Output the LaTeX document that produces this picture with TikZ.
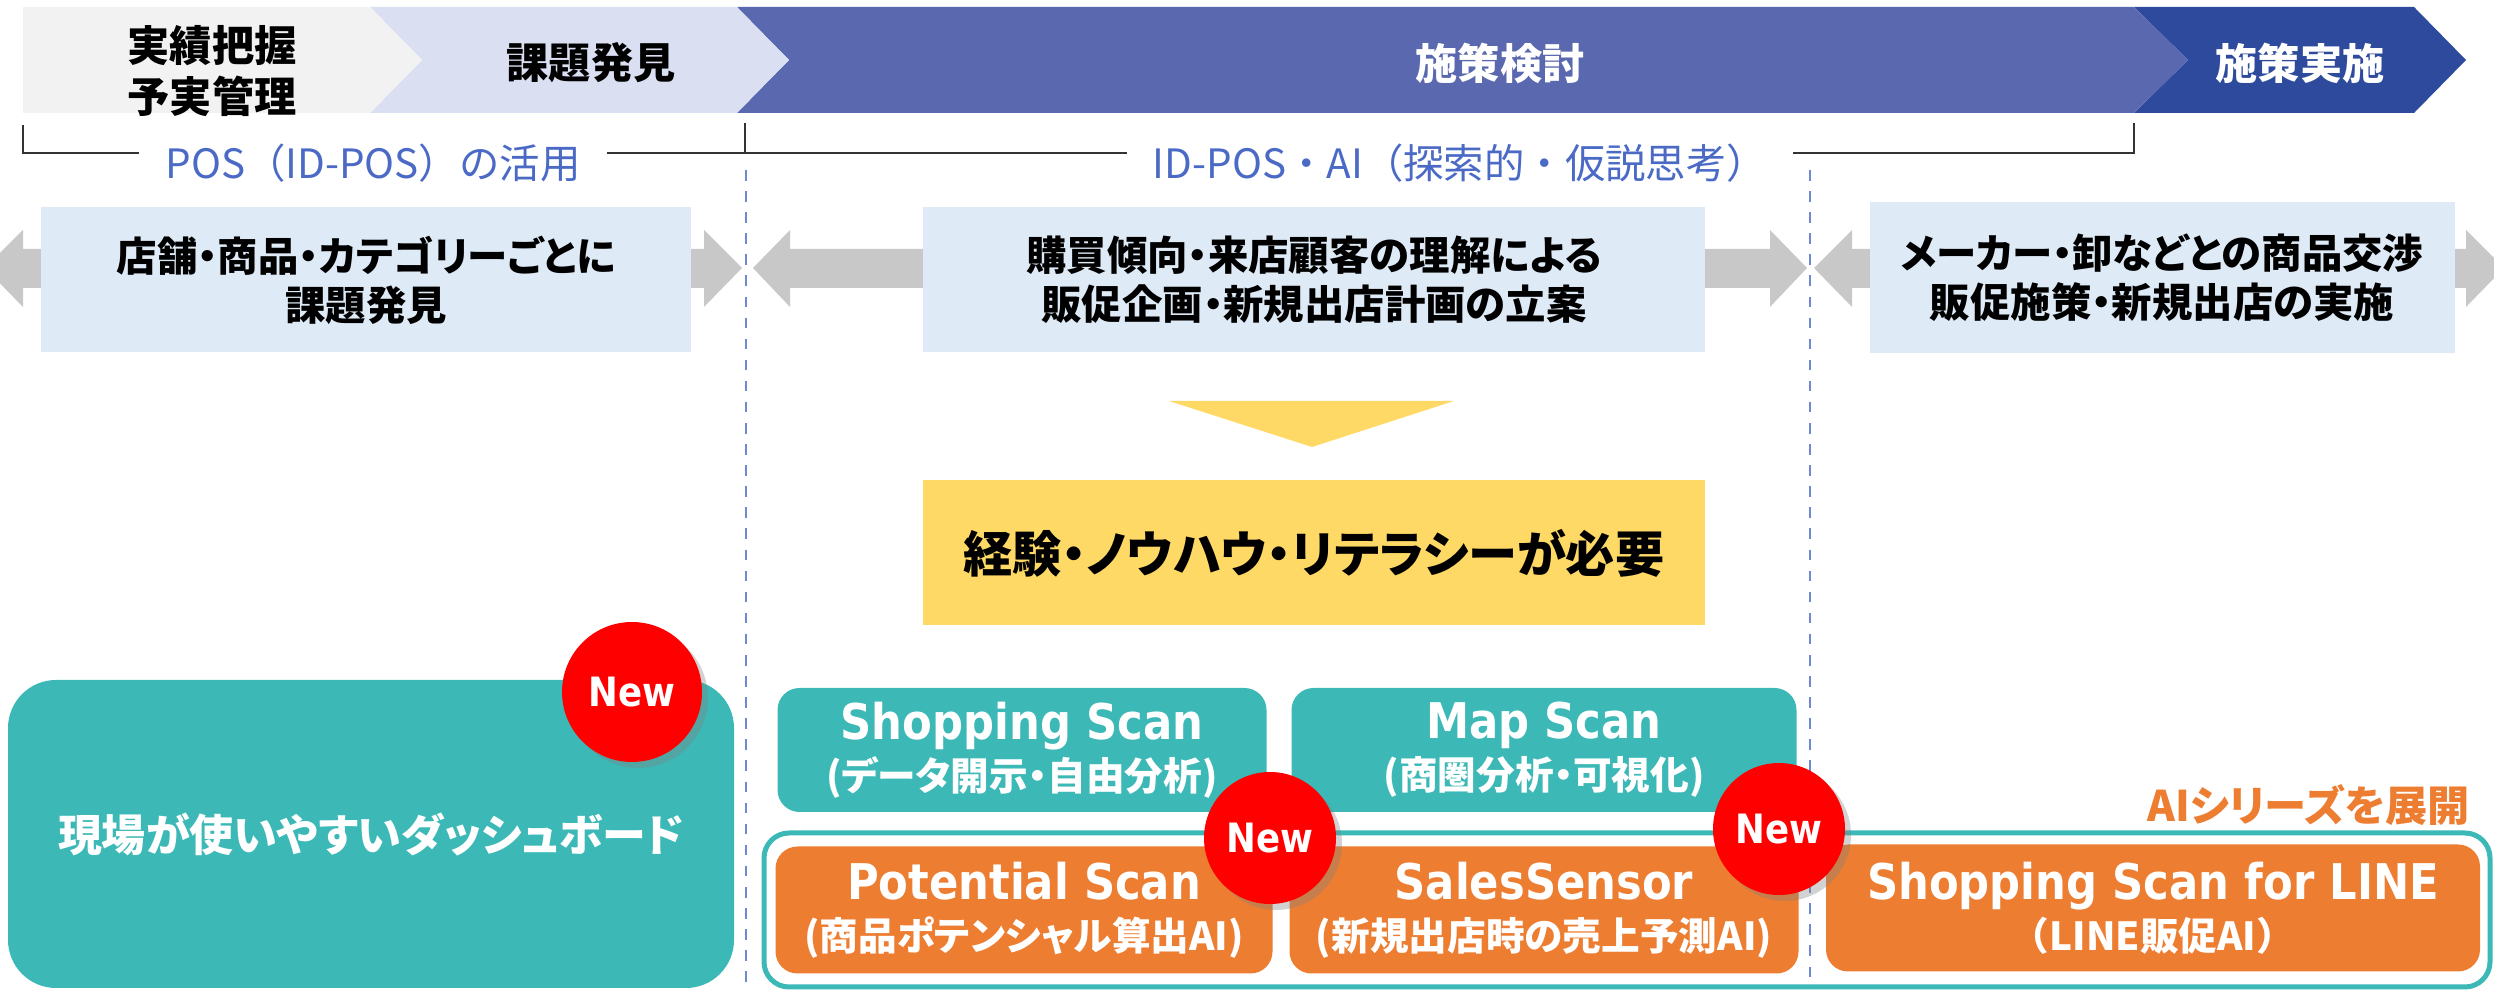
\documentclass[tikz,border=0pt]{standalone}
\usepackage{fontspec}
\setmainfont{Noto Sans CJK JP}[RawFeature=+palt]
\newfontfamily\jpwide{Noto Sans CJK JP}
\newfontfamily\latinface{DejaVu Sans}[FakeStretch=0.88]
\usetikzlibrary{shadows}

\definecolor{chevgray}{HTML}{F2F2F2}
\definecolor{chevlav}{HTML}{DAE0F2}
\definecolor{chevmid}{HTML}{5A69AF}
\definecolor{chevdark}{HTML}{2E4A9C}
\definecolor{taskblue}{HTML}{DEEAF6}
\definecolor{arrowgray}{HTML}{C8C8C8}
\definecolor{needyellow}{HTML}{FFD966}
\definecolor{scanteal}{HTML}{3CB9B7}
\definecolor{aiorange}{HTML}{ED7D31}
\definecolor{labelblue}{HTML}{4A6AC6}

\begin{document}
\begin{tikzpicture}[x=0.1mm, y=-0.1mm,
  hdtext/.style={font=\bfseries\fontsize{12}{14.5}\selectfont, align=center},
  task/.style={fill=taskblue, align=center, font=\bfseries\fontsize{11.5}{14}\selectfont},
  scan/.style={fill=scanteal, rounded corners=2.2mm, text=white, align=center,
    font=\bfseries\fontsize{11}{14.5}\selectfont, minimum height=12.4mm},
  aibox/.style={scan, fill=aiorange, minimum height=12.7mm},
  newbadge/.style={circle, fill=red, text=white, inner sep=0pt, minimum size=13.2mm,
    font=\latinface\bfseries\fontsize{11.5}{12}\selectfont,
    drop shadow={shadow xshift=0.6mm, shadow yshift=-0.6mm, opacity=0.35}},
  phase/.style={font=\jpwide\fontsize{11.5}{12}\selectfont, text=labelblue, fill=white, inner xsep=2.6mm},
  bracket/.style={draw=black!80, line width=0.15mm},
  divider/.style={draw=labelblue!80, dashed, line width=0.12mm}
]
\useasboundingbox (0,0) rectangle (2494,990);

% header chevrons
\fill[chevdark] (2134,7) -- (2414,7) -- (2466,60) -- (2414,113) -- (2134,113) -- (2188,60) -- cycle;
\fill[chevmid] (737,7) -- (2134,7) -- (2188,60) -- (2134,113) -- (737,113) -- (789,60) -- cycle;
\fill[chevlav] (370,7) -- (737,7) -- (789,60) -- (737,113) -- (370,113) -- (422,60) -- cycle;
\fill[chevgray] (23,7) -- (370,7) -- (422,60) -- (370,113) -- (23,113) -- cycle;
\node[hdtext] (hd1) at (212,71) {実績把握\\予実管理};
\node[hdtext] (hd2) at (591,63) {課題発見};
\node[hdtext, text=white] (hd3) at (1500,63) {施策検討};
\node[hdtext, text=white] (hd4) at (2300,63) {施策実施};

% brackets
\coordinate (lb0) at (23,125);
\coordinate (lb1) at (23,153);
\coordinate (mid) at (745,153);
\coordinate (midtop) at (745,123);
\coordinate (rb1) at (2134,153);
\coordinate (rb0) at (2134,123);
\draw[bracket] (lb0) -- (lb1) -- (mid) -- (midtop);
\draw[bracket] (mid) -- (rb1) -- (rb0);
\node[phase] (pos) at (373,163) {POS（ID-POS）の活用};
\node[phase] (idpos) at (1460,163) {ID-POS・AI（探索的・仮説思考）};

% dividers
\coordinate (d1t) at (746,170);
\coordinate (d1b) at (746,990);
\coordinate (d2t) at (1810,170);
\coordinate (d2b) at (1810,990);
\draw[divider] (d1t) -- (d1b);
\draw[divider] (d2t) -- (d2b);

% gray double arrows
\fill[arrowgray] (-15,268) -- (23,230) -- (23,249) -- (704,249) -- (704,230) -- (742,268)
  -- (704,307) -- (704,288) -- (23,288) -- (23,307) -- cycle;
\fill[arrowgray] (753,268) -- (790,230) -- (790,249) -- (1770,249) -- (1770,230) -- (1807,268)
  -- (1770,307) -- (1770,288) -- (790,288) -- (790,307) -- cycle;
\fill[arrowgray] (1814,268) -- (1852,230) -- (1852,249) -- (2466,249) -- (2466,230) -- (2504,268)
  -- (2466,307) -- (2466,288) -- (1852,288) -- (1852,307) -- cycle;

\node[task, minimum width=65mm, minimum height=14.5mm] (issue) at (366,280) {店舗・商品・カテゴリーごとに\\課題発見};
\node[task, minimum width=78.2mm, minimum height=14.5mm] (plan) at (1314,280) {購買傾向・来店顧客の理解による\\販促企画・新規出店計画の立案};
\node[task, minimum width=58.5mm, minimum height=15.1mm] (exec) at (2162,278) {メーカー・卸などとの商品交渉\\販促施策・新規出店の実施};

% down triangle and need box
\fill[needyellow] (1169,401) -- (1454,401) -- (1312,447) -- cycle;
\node[fill=needyellow, minimum width=78.2mm, minimum height=14.5mm,
  font=\bfseries\fontsize{14}{14}\selectfont] (need) at (1314,553) {経験・ノウハウ・リテラシーが必要};

% dashboard
\node[fill=scanteal, rounded corners=4.8mm, minimum width=72.6mm, minimum height=30.8mm, text=white,
  font=\bfseries\fontsize{12.5}{13}\selectfont] (dash) at (371,834) {現場が使いやすいダッシュボード};

% scan products
\node[scan, minimum width=48.9mm] (shop) at (1022,750) {{\latinface\fontsize{14}{15}\selectfont Shopping Scan}\\(データ開示・自由分析)};
\node[scan, minimum width=50.5mm] (map) at (1544,750) {{\latinface\fontsize{14}{15}\selectfont Map Scan}\\(商圏分析・可視化)};

% AI series
\node[anchor=east, text=aiorange, font=\bfseries\fontsize{12}{12}\selectfont] (aiseries) at (2482,805) {AIシリーズを展開};
\node[draw=scanteal, line width=0.5mm, fill=white, rounded corners=2.5mm,
  minimum width=172.6mm, minimum height=15.4mm] (aiframe) at (1627,910) {};
\draw[divider] (1810,840) -- (1810,984);
\node[aibox, minimum width=49.7mm] (potential) at (1024,910) {{\latinface\fontsize{14}{15}\selectfont Potential Scan}\\(商品ポテンシャル算出AI)};
\node[aibox, minimum width=50.9mm] (sales) at (1544,910) {{\latinface\fontsize{14}{15}\selectfont SalesSensor}\\(新規出店時の売上予測AI)};
\node[aibox, minimum width=65.4mm] (linebox) at (2153,908) {{\latinface\fontsize{14}{15}\selectfont Shopping Scan for LINE}\\{\jpwide（}LINE販促AI{\jpwide）}};

% new badges
\node[newbadge, minimum size=14mm] (new1) at (632,692) {New};
\node[newbadge] (new2) at (1270,838) {New};
\node[newbadge] (new3) at (1779,829) {New};
\end{tikzpicture}
\end{document}
